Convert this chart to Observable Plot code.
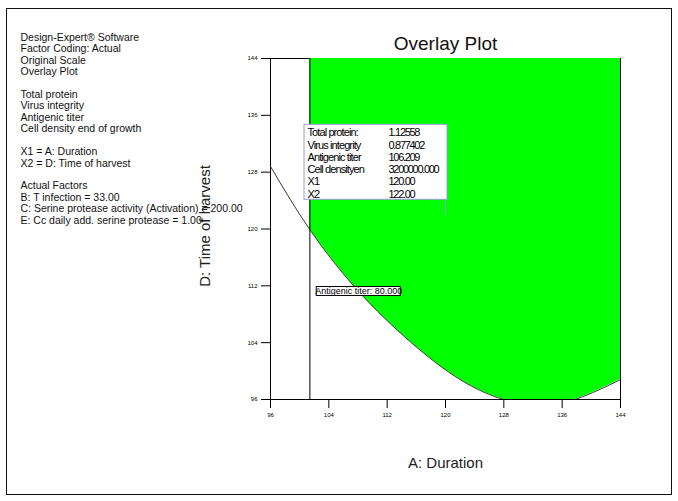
<!DOCTYPE html>
<html>
<head>
<meta charset="utf-8">
<script src="https://cdn.jsdelivr.net/npm/d3@7"></script>
<script src="https://cdn.jsdelivr.net/npm/@observablehq/plot@0.6"></script>
<style>
  html, body { margin: 0; padding: 0; background: white; }
  #wrap { position: relative; width: 678px; height: 501px; overflow: hidden; }
  #border { position: absolute; left: 6px; top: 8px; width: 664px; height: 485px; border: 1.5px solid #111; pointer-events: none; }
</style>
</head>
<body>
<div id="wrap"><div id="border"></div></div>
<script>
// ---- data ----
const axisTicks = [96, 104, 112, 120, 128, 136, 144];
const domainA = [96, 144];
const domainD = [96, 144];

// Antigenic titer = 80 contour (A: Duration -> D: Time of harvest)
const contourA = [96, 101.4, 108, 115.2, 122, 128, 133, 138, 144];
const contourD = [128.8, 119.9, 111.3, 104.1, 98.8, 96.0, 95.3, 96.1, 98.8];

// vertical constraint boundary (other responses)
const boundaryA = 101.4;

// flag point
const flagA = 120, flagD = 122;
const flagLabels = ["Total protein:", "Virus integrity", "Antigenic titer", "Cell densityen", "X1", "X2"];
const flagValues = ["1.12558", "0.877402", "106.209", "3200000.000", "120.00", "122.00"];

// contour label position
const contourLabel = "Antigenic titer: 80.000";
const contourLabelA = 108.1, contourLabelD = 111.2;

const infoLines = [
  "Design-Expert® Software", "Factor Coding: Actual", "Original Scale", "Overlay Plot", "",
  "Total protein", "Virus integrity", "Antigenic titer", "Cell density end of growth", "",
  "X1 = A: Duration", "X2 = D: Time of harvest", "",
  "Actual Factors", "B: T infection = 33.00",
  "C: Serine protease activity (Activation) = 200.00",
  "E: Cc daily add. serine protease = 1.00"
];

const title = "Overlay Plot";
const xLabel = "A: Duration";
const yLabel = "D: Time of harvest";

// ---- build ----
const contour = contourA.map((a, i) => ({A: a, D: contourD[i]}));
const green = contour.filter(d => d.A >= boundaryA);

const chart = Plot.plot({
  width: 678,
  height: 501,
  marginLeft: 270,
  marginRight: 58,
  marginTop: 58,
  marginBottom: 102,
  style: {background: "white", color: "black", fontFamily: "'Liberation Sans', Arial, sans-serif"},
  x: {domain: domainA},
  y: {domain: domainD},
  marks: [
    Plot.frame({stroke: "black"}),
    Plot.areaY(green, {x: "A", y1: "D", y2: domainD[1], fill: "#00ff00", curve: "natural", clip: true}),
    Plot.line(contour, {x: "A", y: "D", stroke: "#3a3a3a", strokeWidth: 1, curve: "natural", clip: true}),
    Plot.ruleX([boundaryA], {y1: domainD[0], y2: domainD[1], stroke: "black", strokeWidth: 1}),
    Plot.ruleX([domainA[1]], {y1: domainD[0], y2: domainD[1], stroke: "black"}),
    Plot.ruleY([domainD[0]], {x1: domainA[0], x2: domainA[1], stroke: "black"}),
    Plot.axisX({ticks: axisTicks, tickSize: 9, tickPadding: 4, fontSize: 6, label: null, tickFormat: d => d}),
    Plot.axisY({ticks: axisTicks, tickSize: 9, tickPadding: 4, fontSize: 6, label: null, tickFormat: d => d}),
    // flag box
    Plot.ruleX([flagA], {y1: flagD, y2: flagD, insetTop: -15, stroke: "#9a9ad6"}),
    Plot.rect([{A: flagA, D: flagD}], {x1: "A", x2: "A", y1: "D", y2: "D",
      insetLeft: -141, insetRight: -2, insetTop: -90, insetBottom: 15,
      fill: "white", stroke: "#9a9ad6", strokeWidth: 1}),
    Plot.text([flagLabels.join("\n")], {x: flagA, y: flagD, dx: -138, dy: -87, textAnchor: "start", lineAnchor: "top",
      fontSize: 11, lineHeight: 1.11, fill: "black"}),
    Plot.text([flagValues.join("\n")], {x: flagA, y: flagD, dx: -57, dy: -87, textAnchor: "start", lineAnchor: "top",
      fontSize: 11, lineHeight: 1.11, fill: "black"}),
    // contour label
    Plot.rect([{A: contourLabelA, D: contourLabelD}], {x1: "A", x2: "A", y1: "D", y2: "D",
      insetLeft: -42, insetRight: -42, insetTop: -4.5, insetBottom: -4.5, fill: "white", stroke: "black"}),
    Plot.text([contourLabel], {x: contourLabelA, y: contourLabelD, fontSize: 9, fill: "black"}),
    // titles
    Plot.text([title], {frameAnchor: "top", dy: -22, fontSize: 19, fill: "#111"}),
    Plot.text([xLabel], {frameAnchor: "bottom", dy: 68, fontSize: 15, fill: "#222"}),
    Plot.text([yLabel], {frameAnchor: "left", dx: -65, dy: -3, rotate: -90, textAnchor: "middle", fontSize: 15, fill: "#222"}),
    Plot.text([infoLines.join("\n")], {frameAnchor: "top-left", dx: -250, dy: -26, textAnchor: "start", lineAnchor: "top",
      fontSize: 10.5, lineHeight: 1.09, fill: "#111"})
  ]
});
// condensed look of the flag box text (tight letter spacing)
d3.select(chart).selectAll("text").each(function() {
  const t = this.textContent;
  if (t.startsWith(flagLabels[0])) this.style.letterSpacing = "-0.9px";
  else if (t.startsWith(flagValues[0])) this.style.letterSpacing = "-1.3px";
});
document.getElementById("wrap").prepend(chart);
</script>
</body>
</html>
